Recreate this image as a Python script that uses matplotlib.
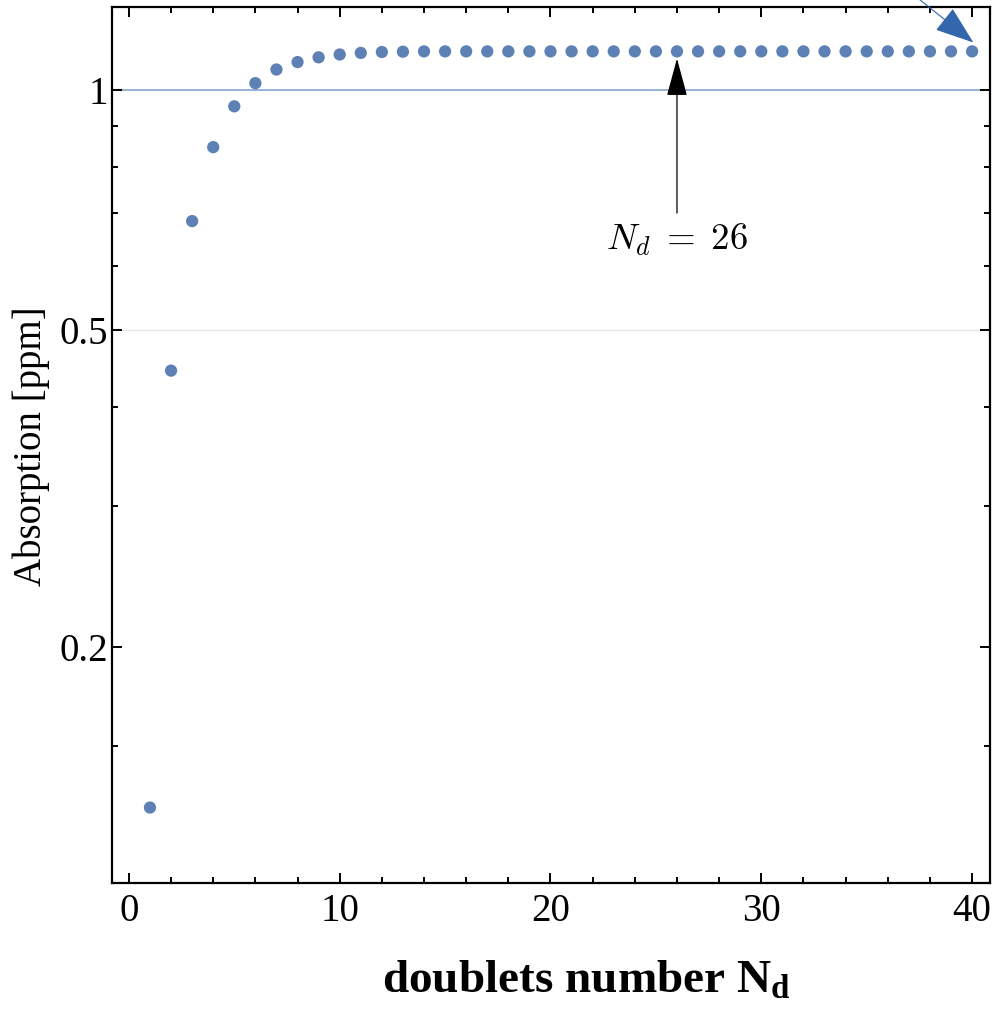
import numpy as np
import matplotlib
matplotlib.use("Agg")
import matplotlib.pyplot as plt
from matplotlib.ticker import FixedLocator, NullFormatter, MultipleLocator

plt.rcParams['font.family'] = 'Liberation Serif'
plt.rcParams['mathtext.fontset'] = 'custom'
plt.rcParams['mathtext.rm'] = 'Liberation Serif'
plt.rcParams['mathtext.it'] = 'Liberation Serif:italic'
plt.rcParams['mathtext.bf'] = 'Liberation Serif:bold'

# absorption vs number of doublets
n_doublets = np.arange(1, 41)
absorption = [0.1256, 0.444, 0.684, 0.847, 0.953, 1.019, 1.060, 1.083, 1.098, 1.107,
              1.112, 1.115, 1.116, 1.117, 1.117, 1.117, 1.117, 1.117, 1.117, 1.117,
              1.117, 1.117, 1.117, 1.117, 1.117, 1.117, 1.117, 1.117, 1.117, 1.117,
              1.117, 1.117, 1.117, 1.117, 1.117, 1.117, 1.117, 1.117, 1.117, 1.117]
y_major = [0.2, 0.5, 1]
y_major_labels = ['0.2', '0.5', '1']
y_minor = [0.15, 0.3, 0.4, 0.6, 0.7, 0.8, 0.9]
n_mark = 26

fig = plt.figure(figsize=(9.94, 10.09), dpi=100)
ax = fig.add_axes([0.1127, 0.1249, 0.8833, 0.8682])

ax.set_yscale('log')
ax.set_xlim(-0.8, 40.85)
ax.set_ylim(0.101, 1.27)

# grid lines: light grey at 0.5, blue at 1
ax.axhline(0.5, color='#e6e6e6', lw=0.9, zorder=1)
ax.axhline(1.0, color='#7f9fcb', lw=1.1, zorder=1)

ax.scatter(n_doublets, absorption, s=78, color='#5e81b5', edgecolors='none', zorder=3)

ax.yaxis.set_major_locator(FixedLocator(y_major))
ax.set_yticklabels(y_major_labels)
ax.yaxis.set_minor_locator(FixedLocator(y_minor))
ax.yaxis.set_minor_formatter(NullFormatter())
ax.xaxis.set_major_locator(MultipleLocator(10))
ax.xaxis.set_minor_locator(MultipleLocator(2))

ax.tick_params(which='both', direction='in', top=True, right=True, width=1.4,
               labelsize=28)
ax.tick_params(axis='y', pad=3)
ax.tick_params(axis='x', pad=7)
ax.tick_params(which='major', length=7)
ax.tick_params(which='minor', length=4)
for sp in ax.spines.values():
    sp.set_linewidth(1.6)

fig.text(0.031, 0.5575, 'Absorption [ppm]', fontsize=28, rotation=90,
         ha='center', va='center')
fig.text(0.590, 0.006, r'doublets number $\mathbf{N_d}$', fontsize=34, fontweight='bold',
         ha='center', va='bottom')

# black arrow marking N_d = 26
ax.annotate('', xy=(n_mark, 1.094), xytext=(n_mark, 0.70),
            arrowprops=dict(arrowstyle='-|>,head_length=24,head_width=6.5', mutation_scale=1,
                            color='black', lw=0.9, shrinkA=0, shrinkB=0), zorder=4)
ax.text(n_mark, 0.648, r'$N_d\;=\;26$', fontsize=26.5, ha='center', va='center',
        math_fontfamily='cm')

# blue arrow pointing at the last point
ax.annotate('', xy=(40.06, 1.146), xytext=(37.0, 1.33),
            arrowprops=dict(arrowstyle='-|>,head_length=25,head_width=9', mutation_scale=1,
                            color='#3366aa', lw=0.8, shrinkA=0, shrinkB=0),
            annotation_clip=False, zorder=4)

fig.savefig('out.png', dpi=100)
